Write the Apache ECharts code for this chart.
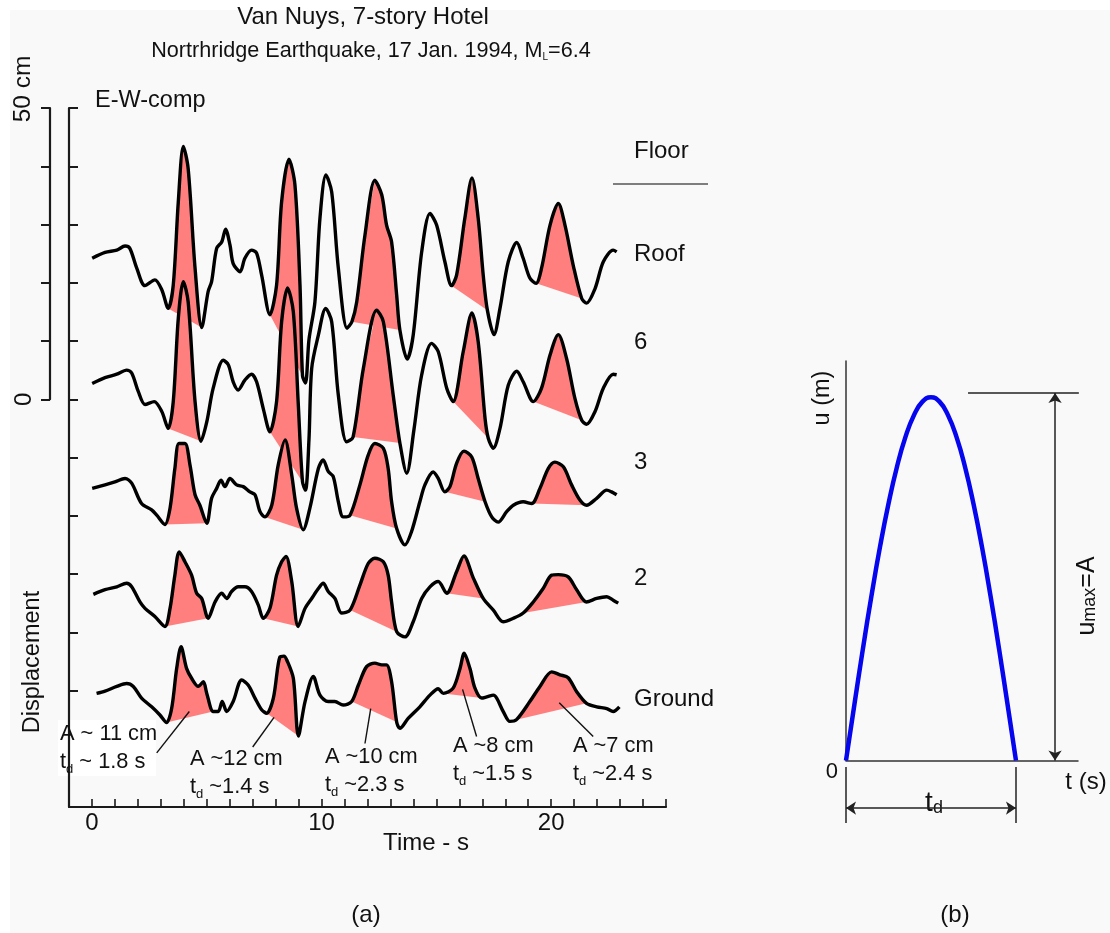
<!DOCTYPE html>
<html><head><meta charset="utf-8">
<script src="https://cdn.jsdelivr.net/npm/echarts@6/dist/echarts.min.js"></script>
<style>
html,body{margin:0;padding:0;background:#fff;}
#bg{position:absolute;left:10px;top:10px;right:0;bottom:0;background:#f9f9f9;}
#c{position:absolute;left:0;top:0;width:1110px;height:933px;}
</style>
</head><body><div id="bg"></div><div id="c"></div>
<script>
// ---- data: time (s), displacement (cm, plotted with floor offsets as read) ----
const roof = [[0.01,24.2],[0.57,25.2],[1.08,25.6],[1.44,26.3],[1.65,25.9],[1.95,22.5],[2.31,19.5],[2.74,20.5],[3.04,18.8],[3.32,15.6],[3.54,19.6],[3.76,33.9],[3.98,43.4],[4.19,39.6],[4.49,22.5],[4.78,12.3],[5.06,18.5],[5.21,20.2],[5.43,25.9],[5.65,27.0],[5.82,29.2],[6.01,26.5],[6.15,23.3],[6.45,21.9],[6.66,24.2],[6.95,25.6],[7.17,25.1],[7.39,21.3],[7.75,14.5],[8.04,19.6],[8.26,33.9],[8.58,41.2],[8.84,36.8],[9.06,19.6],[9.17,4.0],[9.30,2.8],[9.45,10.2],[9.71,16.7],[9.93,31.1],[10.19,38.5],[10.44,35.6],[10.73,22.5],[11.11,12.2],[11.32,13.3],[11.53,16.7],[11.89,28.2],[12.32,37.6],[12.62,35.1],[12.83,29.9],[13.05,27.0],[13.27,17.9],[13.41,11.9],[13.73,6.9],[13.99,11.0],[14.36,25.3],[14.72,31.9],[15.01,29.9],[15.37,23.6],[15.66,19.5],[15.88,21.3],[16.24,31.1],[16.55,38.0],[16.82,31.1],[17.04,21.3],[17.22,15.3],[17.51,11.1],[17.77,15.6],[18.13,23.6],[18.50,26.9],[18.78,24.2],[19.07,20.8],[19.34,19.9],[19.58,22.5],[19.95,29.9],[20.31,33.6],[20.60,29.9],[20.96,23.0],[21.33,17.3],[21.54,16.5],[21.91,19.0],[22.27,23.6],[22.70,25.6],[22.85,25.3]];
const floor6 = [[0.01,2.7],[0.57,3.7],[1.08,4.3],[1.51,5.0],[1.73,4.5],[2.02,1.3],[2.31,-0.9],[2.71,-0.4],[3.04,-2.1],[3.32,-5.0],[3.54,-0.4],[3.76,13.9],[3.98,20.2],[4.19,16.7],[4.49,-0.4],[4.75,-7.2],[5.00,-3.9],[5.28,1.9],[5.72,6.7],[5.94,5.9],[6.15,3.0],[6.37,1.6],[6.66,3.3],[6.95,4.3],[7.17,3.0],[7.46,-1.6],[7.75,-5.6],[8.04,-0.4],[8.26,13.3],[8.52,19.1],[8.77,15.0],[8.98,-0.4],[9.17,-14.2],[9.30,-15.6],[9.45,-7.0],[9.57,5.3],[9.86,11.0],[10.18,15.6],[10.44,13.3],[10.73,0.7],[11.09,-7.3],[11.37,-6.5],[11.82,5.3],[12.40,15.3],[12.69,13.3],[13.12,0.7],[13.41,-7.5],[13.71,-12.7],[14.02,-5.3],[14.36,4.2],[14.79,9.6],[15.08,8.2],[15.45,1.9],[15.73,-0.4],[16.17,8.2],[16.55,14.8],[16.82,9.9],[17.12,-3.3],[17.26,-6.7],[17.48,-8.4],[17.77,-5.0],[18.13,2.4],[18.50,4.8],[18.78,3.0],[19.22,-0.4],[19.58,1.9],[19.95,7.6],[20.31,11.1],[20.67,7.0],[21.03,0.2],[21.33,-3.6],[21.54,-4.3],[21.91,-2.1],[22.27,1.9],[22.70,4.3],[22.85,4.2]];
const floor3 = [[0.01,-15.3],[0.57,-14.7],[1.00,-14.2],[1.44,-13.6],[1.73,-14.4],[2.16,-17.9],[2.60,-19.0],[2.82,-19.9],[3.18,-21.5],[3.40,-18.7],[3.61,-11.9],[3.79,-7.6],[4.05,-7.6],[4.27,-11.3],[4.49,-16.4],[4.70,-18.2],[5.00,-21.3],[5.21,-17.0],[5.43,-15.3],[5.62,-13.9],[5.79,-15.0],[6.01,-13.6],[6.30,-14.7],[6.59,-15.0],[6.88,-15.9],[7.10,-16.4],[7.32,-19.3],[7.53,-20.2],[7.83,-18.2],[8.11,-11.3],[8.41,-7.0],[8.70,-13.0],[8.91,-18.7],[9.20,-22.4],[9.49,-18.7],[9.86,-11.9],[10.07,-10.4],[10.29,-12.4],[10.51,-13.3],[10.73,-17.6],[10.94,-20.2],[11.24,-19.9],[11.67,-14.7],[12.03,-9.6],[12.32,-7.6],[12.69,-8.4],[12.90,-11.9],[13.05,-17.6],[13.27,-22.2],[13.63,-25.0],[13.92,-22.7],[14.28,-17.6],[14.50,-14.7],[14.86,-12.5],[15.08,-13.6],[15.37,-15.9],[15.59,-15.0],[15.88,-11.0],[16.20,-8.9],[16.54,-9.9],[16.82,-13.6],[17.12,-17.6],[17.41,-20.2],[17.69,-21.1],[18.06,-19.3],[18.35,-18.2],[18.78,-17.6],[19.15,-17.9],[19.51,-15.3],[19.87,-11.9],[20.16,-10.8],[20.53,-11.6],[20.89,-14.7],[21.25,-17.3],[21.54,-18.2],[21.98,-17.0],[22.42,-15.6],[22.63,-15.9],[22.85,-16.4]];
const floor2 = [[0.06,-33.5],[0.57,-32.7],[1.08,-32.2],[1.51,-31.6],[1.73,-32.2],[2.09,-34.8],[2.31,-35.9],[2.74,-37.3],[3.18,-39.0],[3.40,-35.9],[3.61,-30.2],[3.80,-26.2],[4.05,-27.9],[4.34,-30.2],[4.56,-33.3],[4.78,-34.2],[5.06,-37.6],[5.36,-34.8],[5.65,-33.3],[5.87,-34.2],[6.08,-33.0],[6.37,-32.2],[6.66,-32.2],[6.95,-33.0],[7.24,-35.3],[7.46,-37.6],[7.75,-35.9],[8.04,-30.2],[8.26,-27.9],[8.45,-27.0],[8.70,-31.3],[8.98,-39.0],[9.28,-35.9],[9.57,-34.2],[9.86,-32.5],[10.07,-31.6],[10.29,-33.0],[10.58,-34.2],[10.87,-36.7],[11.24,-36.2],[11.67,-31.9],[12.03,-28.2],[12.32,-27.3],[12.69,-27.9],[12.90,-30.2],[13.05,-34.8],[13.27,-39.9],[13.63,-40.8],[13.99,-38.2],[14.36,-34.2],[14.72,-32.2],[15.08,-31.3],[15.45,-33.3],[15.88,-29.6],[16.20,-26.9],[16.61,-30.7],[17.04,-34.2],[17.48,-36.2],[17.91,-38.2],[18.35,-37.6],[18.78,-36.7],[19.22,-34.8],[19.65,-32.5],[20.02,-30.2],[20.31,-30.1],[20.74,-30.5],[21.11,-32.7],[21.54,-34.8],[21.98,-34.2],[22.42,-33.9],[22.70,-34.5],[22.92,-35.0]];
const ground = [[0.20,-50.5],[0.57,-50.1],[1.08,-49.3],[1.51,-48.8],[1.80,-49.3],[2.16,-51.3],[2.60,-52.8],[2.96,-54.2],[3.25,-55.5],[3.47,-53.1],[3.69,-46.2],[3.88,-42.5],[4.12,-46.2],[4.34,-47.9],[4.63,-49.3],[4.85,-48.5],[5.00,-50.5],[5.28,-53.6],[5.50,-53.6],[5.67,-51.9],[5.87,-53.6],[6.15,-51.9],[6.52,-48.2],[6.81,-49.1],[7.10,-51.3],[7.39,-53.3],[7.61,-53.9],[7.90,-51.3],[8.19,-44.2],[8.36,-44.1],[8.49,-44.8],[8.77,-47.9],[8.99,-57.8],[9.28,-51.9],[9.64,-47.6],[9.93,-50.8],[10.29,-51.9],[10.58,-51.9],[10.94,-52.5],[11.31,-51.9],[11.60,-49.1],[11.96,-45.9],[12.32,-45.3],[12.62,-45.6],[12.83,-45.6],[13.05,-48.5],[13.27,-55.4],[13.41,-56.5],[13.77,-54.8],[14.28,-52.8],[14.72,-50.8],[15.08,-49.7],[15.30,-50.5],[15.73,-49.6],[16.03,-46.2],[16.21,-43.6],[16.46,-46.2],[16.68,-49.6],[16.97,-51.3],[17.19,-51.1],[17.48,-50.8],[17.91,-53.6],[18.20,-55.3],[18.49,-55.0],[19.07,-51.9],[19.51,-49.3],[20.02,-46.8],[20.38,-47.3],[20.74,-47.8],[21.11,-50.2],[21.54,-52.2],[21.98,-52.8],[22.42,-53.1],[22.70,-53.6],[22.97,-52.8]];

// pulse windows [t start, t end] (s) for each floor
const roofPulses   = [[3.32,4.78],[7.75,9.17],[11.32,13.41],[15.66,17.22],[19.34,21.33]];
const floor6Pulses = [[3.32,4.75],[7.75,9.17],[11.37,13.41],[15.73,17.26],[19.22,21.33]];
const floor3Pulses = [[3.18,5.00],[7.53,9.20],[11.24,13.27],[15.37,17.12],[19.15,21.54]];
const floor2Pulses = [[3.18,5.06],[7.46,8.98],[11.24,13.27],[15.45,17.04],[18.78,21.54]];
const groundPulses = [[3.25,5.28],[7.61,8.99],[11.31,13.27],[15.30,16.97],[18.49,21.54]];

const floorNames = ['Roof','6','3','2','Ground'];
const xTickLabels = [0,10,20];
const scaleLabels = ['0','50 cm'];

// annotations: amplitude / duration text, leader lines [t,cm]->[t,cm]
const annA  = ['A ~ 11 cm','A ~12 cm','A ~10 cm','A ~8 cm','A ~7 cm'];
const annTd = [' ~ 1.8 s',' ~1.4 s',' ~2.3 s',' ~1.5 s',' ~2.4 s'];
const leaders = [[[2.82,-60.7],[4.24,-53.6]],[[7.00,-59.7],[7.93,-54.6]],[[11.89,-59.1],[12.14,-53.1]],[[16.75,-57.9],[16.14,-49.8]],[[21.83,-57.9],[20.35,-52.1]]];

// (b) half-sine pulse, t/td vs u/A
const halfSine = [[0,0],[0.05,0.156],[0.1,0.309],[0.15,0.454],[0.2,0.588],[0.25,0.707],[0.3,0.809],[0.35,0.891],[0.4,0.951],[0.45,0.988],[0.5,1],[0.55,0.988],[0.6,0.951],[0.65,0.891],[0.7,0.809],[0.75,0.707],[0.8,0.588],[0.85,0.454],[0.9,0.309],[0.95,0.156],[1,0]];
const bRefLines = [[[0.718,1.012],[1.37,1.012]],[[0,-0.018],[0,-0.172]],[[1,-0.018],[1,-0.172]]];
const bArrows = [[[1.23,1.012],[1.23,0]],[[0,-0.131],[1,-0.131]]];

const FONT = '"Liberation Sans", Arial, Helvetica, sans-serif';
const PINK = '#ff7f7f';
const traces = [roof, floor6, floor3, floor2, ground];
const pulses = [roofPulses, floor6Pulses, floor3Pulses, floor2Pulses, groundPulses];
const pulseData = [];
pulses.forEach((arr, k) => arr.forEach(w => pulseData.push([w[0], w[1], k])));

const chart = echarts.init(document.getElementById('c'), null, {renderer:'canvas'});

function txt(text, x, y, fs, opts) {
  opts = opts || {};
  return Object.assign({
    type:'text', x:x, y:y, silent:true,
    style: Object.assign({text:text, fill:'#111', fontFamily:FONT, fontSize:fs,
      align: opts.align || 'center', verticalAlign: opts.va || 'middle'}, opts.style || {})
  }, opts.el || {});
}

const floorLabelY = [254, 342, 462, 578, 699];
const annPos = [[60,720],[190,745],[325,743],[453,732],[573,732]];

const graphics = [];
graphics.push(txt('Van Nuys, 7-story Hotel', 363, 17, 24));
graphics.push(txt('{a|Nortrhridge Earthquake, 17 Jan. 1994, M}{b|L}{a|=6.4}', 371, 51, 21.6, {style:{rich:{a:{fontSize:21.6,fontFamily:FONT,fill:'#111'},b:{fontSize:10,fontFamily:FONT,fill:'#111',verticalAlign:'bottom'}}}}));
graphics.push(txt('E-W-comp', 95, 101, 23.5, {align:'left'}));
graphics.push(txt('Floor', 634, 151, 24, {align:'left'}));
graphics.push({type:'line', silent:true, shape:{x1:613,y1:184,x2:708,y2:184}, style:{stroke:'#555', lineWidth:1.5}});
floorNames.forEach((n,i) => graphics.push(txt(n, 634, floorLabelY[i], 24, {align:'left'})));
graphics.push(txt('Displacement', 33, 662, 23.5, {el:{rotation:Math.PI/2}}));
graphics.push(txt('Time - s', 426, 843, 24));
graphics.push(txt('(a)', 366, 915, 24));
graphics.push(txt('(b)', 955, 915, 24));
graphics.push({type:'rect', silent:true, shape:{x:58,y:720,width:98,height:56}, style:{fill:'#fff'}, z:0});
annA.forEach((a,i) => {
  graphics.push(txt('{n|' + a + '}\n{n|t}{s|d}{n|' + annTd[i] + '}', annPos[i][0], annPos[i][1], 21.5, {align:'left', va:'top', style:{rich:{
    n:{fontSize:21.8, lineHeight:28, fontFamily:FONT, fill:'#111'},
    s:{fontSize:13, lineHeight:12, fontFamily:FONT, fill:'#111', verticalAlign:'bottom'}}}, el:{z:5}}));
});
graphics.push(txt('u (m)', 823, 398, 23.5, {el:{rotation:Math.PI/2}}));
graphics.push(txt('{a|u}{b|max}{a|=A}', 1087, 596, 25, {el:{rotation:Math.PI/2}, style:{rich:{a:{fontSize:25,fontFamily:FONT,fill:'#111'},b:{fontSize:18,fontFamily:FONT,fill:'#111',verticalAlign:'bottom'}}}}));
graphics.push(txt('t (s)', 1086, 782, 24));
graphics.push(txt('{a|t}{b|d}', 934, 803, 26, {style:{rich:{a:{fontSize:28,fontFamily:FONT,fill:'#111'},b:{fontSize:18,fontFamily:FONT,fill:'#111',verticalAlign:'bottom'}}}}));

const axisDark = {color:'#1a1a1a', width:2.2};

const option = {
  animation:false,
  backgroundColor:'transparent',
  grid:[
    {left:69, top:108, width:597, height:699},
    {left:50, top:108, width:1, height:291.25},
    {left:846, top:361, width:232, height:399.5}
  ],
  xAxis:[
    {gridIndex:0, type:'value', min:-1, max:25, interval:1,
     axisLine:{onZero:false, lineStyle:axisDark},
     axisTick:{inside:true, length:8, lineStyle:{color:'#1a1a1a', width:1.6}},
     axisLabel:{fontSize:24, fontFamily:FONT, color:'#111', margin:4,
       formatter: v => xTickLabels.indexOf(v) >= 0 ? String(v) : ''},
     splitLine:{show:false}},
    {gridIndex:1, type:'value', min:0, max:1, show:false},
    {gridIndex:2, type:'value', min:0, max:1.365,
     axisLine:{onZero:false, lineStyle:{color:'#333', width:1.5}},
     axisTick:{show:false}, axisLabel:{show:false}, splitLine:{show:false}}
  ],
  yAxis:[
    {gridIndex:0, type:'value', min:-70, max:50, interval:10,
     axisLine:{show:true, onZero:false, lineStyle:axisDark},
     axisTick:{show:true, inside:true, length:9, customValues:[-50,-40,-30,-20,-10,0,10,20,30,40,50], lineStyle:{color:'#1a1a1a', width:2}},
     axisLabel:{show:false}, splitLine:{show:false}},
    {gridIndex:1, type:'value', min:0, max:50, interval:10,
     axisLine:{show:true, lineStyle:axisDark},
     axisTick:{show:true, inside:false, length:9, lineStyle:{color:'#1a1a1a', width:2}},
     axisLabel:{rotate:90, margin:14, fontSize:24, fontFamily:FONT, color:'#111',
       formatter: v => v===50 ? '{a|' + scaleLabels[1] + '}' : (v===0 ? scaleLabels[0] : ''),
       rich:{a:{fontSize:24.5, fontFamily:FONT, color:'#111', padding:[0,0,0,38]}}},
     splitLine:{show:false}},
    {gridIndex:2, type:'value', min:0, max:1.1,
     axisLine:{show:true, onZero:false, lineStyle:{color:'#333', width:1.5}},
     axisTick:{show:false},
     axisLabel:{customValues:[0], formatter: v => v===0 ? '0' : '', verticalAlign:'top', margin:8, fontSize:22, fontFamily:FONT, color:'#111'},
     splitLine:{show:false}}
  ],
  graphic:{elements:graphics},
  series:[
    {type:'custom', xAxisIndex:0, yAxisIndex:0, data:pulseData, encode:{x:[0,1], y:2}, silent:true, z:2,
     renderItem:(params, api) => {
       const a = api.value(0), b = api.value(1), k = api.value(2);
       const pts = traces[k].filter(p => p[0] >= a - 1e-6 && p[0] <= b + 1e-6).map(p => api.coord(p));
       return {type:'polygon', shape:{points:pts}, style:{fill:PINK, stroke:null}};
     }},
    ...traces.map(d => ({type:'line', xAxisIndex:0, yAxisIndex:0, data:d, showSymbol:false, smooth:0.3, silent:true,
      lineStyle:{color:'#000', width:3.4, join:'round'}, z:3})),
    {type:'lines', coordinateSystem:'cartesian2d', xAxisIndex:0, yAxisIndex:0, silent:true, z:4,
     data:leaders.map(c => ({coords:c})), symbol:'none', lineStyle:{color:'#111', width:1.4, opacity:1}},
    {type:'line', xAxisIndex:2, yAxisIndex:2, data:halfSine, showSymbol:false, smooth:true, silent:true,
     lineStyle:{color:'#0505ee', width:4.5}, z:3},
    {type:'lines', coordinateSystem:'cartesian2d', xAxisIndex:2, yAxisIndex:2, silent:true, clip:false,
     data:bRefLines.map(c => ({coords:c})), symbol:'none', lineStyle:{color:'#222', width:1.5, opacity:1}},
    {type:'lines', coordinateSystem:'cartesian2d', xAxisIndex:2, yAxisIndex:2, silent:true, clip:false,
     data:bArrows.map(c => ({coords:c})), symbol:['arrow','arrow'], symbolSize:10, lineStyle:{color:'#222', width:1.5, opacity:1}}
  ]
};
chart.setOption(option);
</script></body></html>
